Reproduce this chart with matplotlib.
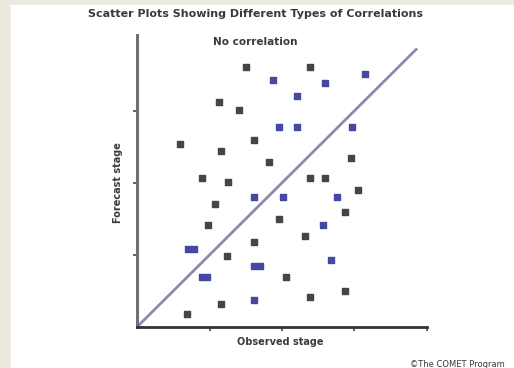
import numpy as np
import matplotlib.pyplot as plt

# dark markers
dark_x = [1.50, 2.39, 1.13, 1.41, 0.59, 1.61, 1.16, 2.95, 1.82, 0.89, 1.25,
          2.39, 2.59, 3.05, 1.07, 2.87, 0.98, 1.96, 2.32, 1.61, 1.24, 2.06,
          2.87, 2.39, 1.16, 0.69]
dark_y = [3.60, 3.60, 3.12, 3.01, 2.54, 2.60, 2.44, 2.35, 2.29, 2.06, 2.01,
          2.06, 2.06, 1.90, 1.70, 1.59, 1.41, 1.50, 1.26, 1.18, 0.99, 0.69,
          0.50, 0.42, 0.32, 0.18]

# blue markers
blue_x = [1.87, 2.59, 3.14, 2.21, 1.96, 2.21, 2.96, 1.61, 2.01, 2.76, 2.56,
          0.71, 0.78, 1.61, 1.69, 2.68, 0.90, 0.97, 1.61]
blue_y = [3.42, 3.38, 3.51, 3.20, 2.78, 2.78, 2.78, 1.81, 1.81, 1.81, 1.41,
          1.08, 1.08, 0.84, 0.84, 0.93, 0.69, 0.69, 0.38]

line_x = [0, 3.85]
line_y = [0, 3.85]

W, H = 514, 368
fig = plt.figure(figsize=(W / 100, H / 100), dpi=100)
fig.patch.set_facecolor('#ece9df')
# white panel
fig.patches.append(plt.Rectangle((11 / W, 0), 1 - 11 / W, 1 - 5 / H,
                                 transform=fig.transFigure, color='white', zorder=-1))

ax = fig.add_axes([137 / W, 41 / H, 290 / W, 292 / H])
ax.set_zorder(2)
ax.set_facecolor('none')
ax.plot(line_x, line_y, color='#9088b0', lw=2, zorder=1)
ax.scatter(dark_x, dark_y, marker='s', s=16, color='#44444c', zorder=3)
ax.scatter(blue_x, blue_y, marker='s', s=16, color='#4548a0', zorder=3)

ax.set_xlim(0, 4.0)
ax.set_ylim(0, 4.05)
ax.set_xticks([1, 2, 3, 4])
ax.set_yticks([1, 2, 3])
ax.set_xticklabels([])
ax.set_yticklabels([])
ax.tick_params(length=3, width=1.2, color='#444', direction='out')
for s in ['top', 'right']:
    ax.spines[s].set_visible(False)
ax.spines['left'].set_color('#707070')
ax.spines['left'].set_linewidth(2.2)
ax.spines['bottom'].set_color('#333')
ax.spines['bottom'].set_linewidth(2)

fig.text(0.497, 1 - 14 / H, 'Scatter Plots Showing Different Types of Correlations',
         ha='center', va='center', fontsize=8, fontweight='bold', color='#3a3a3a')
fig.text(0.497, 1 - 42 / H, 'No correlation', ha='center', va='center',
         fontsize=7.5, fontweight='bold', color='#3a3a3a')
fig.text(118 / W, 1 - 183 / H, 'Forecast stage', ha='center', va='center',
         rotation=90, fontsize=7, fontweight='bold', color='#3a3a3a')
fig.text(280 / W, 1 - 342 / H, 'Observed stage', ha='center', va='center',
         fontsize=7, fontweight='bold', color='#3a3a3a')
fig.text(410 / W, 1 - 360 / H, '\u00a9The COMET Program', ha='left', va='top',
         fontsize=6, color='#3a3a3a')

fig.savefig('out.png', dpi=100)
